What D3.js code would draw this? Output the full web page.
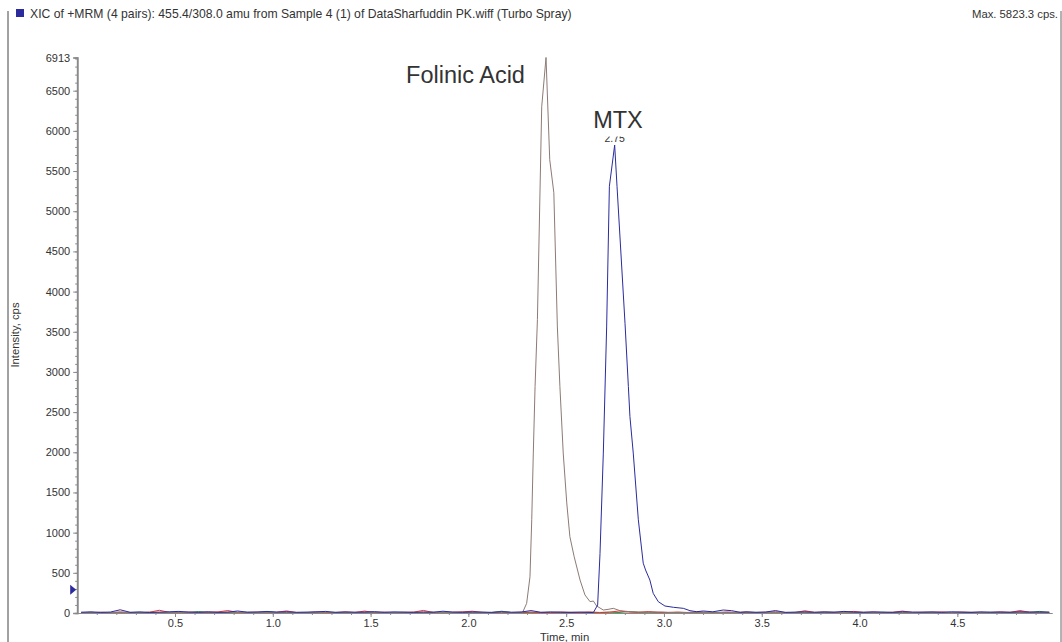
<!DOCTYPE html>
<html>
<head>
<meta charset="utf-8">
<script src="https://cdn.jsdelivr.net/npm/d3@7"></script>
<style>
  html, body { margin: 0; padding: 0; background: #fff; }
  svg { display: block; font-family: "Liberation Sans", Arial, Helvetica, sans-serif; }
</style>
</head>
<body>
<svg id="chart" width="1062" height="642"></svg>
<script>
// ---- Chromatogram data (time in min, intensity in cps) ----
const titleText = "XIC of +MRM (4 pairs): 455.4/308.0 amu from Sample 4 (1) of DataSharfuddin PK.wiff (Turbo Spray)";
const xLabel = "Time, min";
const yLabel = "Intensity, cps";
const xTickValues = [0.5, 1.0, 1.5, 2.0, 2.5, 3.0, 3.5, 4.0, 4.5];
const yTickValues = [0, 500, 1000, 1500, 2000, 2500, 3000, 3500, 4000, 4500, 5000, 5500, 6000, 6500];
const thresholdMarker = 290;

// Shared sampling grid for the baseline portions of every trace
const gridTimes = d3.range(100).map(i => +(0.02 + i * 0.05).toFixed(2));

// Baseline noise on the grid; null where the peak samples take over
const redBaseline = [
  6, 4, 9, 5, 12, 7, 3, 10, 34, 8,
  5, 11, 6, 9, 14, 30, 8, 7, 10, 5,
  9, 26, 6, 4, 12, 8, 5, 13, 7, 24,
  6, 10, 5, 8, 11, 32, 7, 4, 9, 14,
  22, 8, 5, 10, 6, 9, 12, 7, 5, 11,
  8, 6, 13, 7, 10, 25, 12, 8, 18, 9,
  7, 11, 6, 14, 9, 5, 12, 8, 10, 6,
  9, 13, 7, 5, 28, 8, 11, 6, 10, 20,
  7, 12, 5, 9, 24, 6, 10, 8, 13, 5,
  11, 7, 9, 6, 14, 8, 30, 10, 6, 9
];
const greenBaseline = [
  4, 8, 5, 3, 7, 6, 9, 4, 6, 5,
  7, 5, 18, 6, 4, 8, 5, 9, 6, 20,
  5, 7, 4, 6, 9, 5, 8, 6, 4, 7,
  9, 5, 6, 8, 4, 7, 5, 10, 6, 8,
  5, 7, 6, 22, 5, 8, 4, 6, 9, 5,
  7, 6, 8, 5, 10, 6, 18, 7, 9, 6,
  5, 8, 6, 7, 4, 9, 6, 5, 8, 7,
  6, 9, 5, 7, 8, 5, 10, 6, 4, 8,
  7, 5, 9, 6, 8, 4, 7, 9, 5, 6,
  8, 6, 5, 9, 7, 6, 8, 5, 20, 7
];
const folinicBaseline = [
  5, 8, 3, 6, 10, 4, 7, 9, 5, 6,
  8, 4, 6, 12, 5, 7, 10, 6, 4, 8,
  6, 9, 5, 7, 4, 11, 6, 8, 5, 7,
  9, 5, 7, 4, 8, 6, 10, 5, 7, 6,
  8, 5, 7, 12, 6, 4, null, null, null, null,
  null, null, null, null, null, null, null, null, null, null,
  8, 5, 7, 9, 6, 4, 8, 6, 10, 5,
  7, 9, 5, 6, 8, 4, 7, 11, 5, 6,
  8, 6, 4, 7, 9, 5, 6, 8, 5, 7,
  6, 9, 5, 7, 4, 8, 6, 10, 5, 7
];
const mtxBaseline = [
  10, 14, 8, 12, 40, 9, 13, 7, 11, 15,
  20, 12, 9, 14, 8, 11, 25, 10, 13, 18,
  12, 16, 9, 11, 14, 20, 8, 13, 10, 12,
  16, 9, 14, 11, 8, 13, 10, 22, 12, 9,
  14, 11, 8, 16, 10, 12, 30, 9, 13, 11,
  8, 12, null, null, null, null, null, null, null, null,
  null, null, null, null, null, null, null, null, 14, 9,
  12, 30, 8, 11, 15, 9, 13, 10, 20, 12,
  9, 14, 11, 8, 16, 12, 10, 13, 9, 15,
  11, 8, 14, 10, 12, 9, 16, 11, 13, 10
];

// Peak samples
const folinicPeakTimes = [2.276, 2.298, 2.315, 2.324, 2.332, 2.341, 2.353, 2.375, 2.397, 2.416,
  2.437, 2.455, 2.468, 2.485, 2.503, 2.519, 2.541, 2.571, 2.596, 2.622,
  2.639, 2.656, 2.690, 2.714, 2.741, 2.775, 2.826, 2.903, 2.988];
const folinicPeakValues = [0, 120, 450, 1160, 1990, 2820, 3650, 6300, 6913, 5640,
  5230, 3560, 2820, 1990, 1370, 950, 700, 410, 225, 141,
  149, 87, 37, 45, 58, 29, 16, 10, 12];

const mtxPeakTimes = [2.612, 2.639, 2.661, 2.673, 2.690, 2.707, 2.721, 2.748, 2.760, 2.801,
  2.818, 2.826, 2.843, 2.869, 2.894, 2.906, 2.928, 2.945, 2.971, 3.005,
  3.048, 3.099, 3.133, 3.167, 3.201, 3.250, 3.303, 3.346, 3.390];
const mtxPeakValues = [8, 5, 100, 740, 1990, 3560, 5310, 5823.3, 5310, 3600,
  2820, 2445, 1990, 1160, 620, 535, 410, 245, 141, 87,
  71, 58, 29, 16, 25, 15, 37, 29, 8];

// ---- Build traces ----
function buildTrace(baseline, peakTimes, peakValues) {
  const pts = [];
  baseline.forEach((v, i) => { if (v !== null) pts.push([gridTimes[i], v]); });
  if (peakTimes) peakTimes.forEach((t, i) => pts.push([t, peakValues[i]]));
  return pts.sort((a, b) => a[0] - b[0]);
}

const traces = [
  { name: "green", color: "#2f8f3c", points: buildTrace(greenBaseline) },
  { name: "red", color: "#e8322e", points: buildTrace(redBaseline) },
  { name: "Folinic Acid", color: "#8c7b75", points: buildTrace(folinicBaseline, folinicPeakTimes, folinicPeakValues) },
  { name: "MTX", color: "#2b2b9e", points: buildTrace(mtxBaseline, mtxPeakTimes, mtxPeakValues) }
];

const yMax = d3.max(traces, tr => d3.max(tr.points, p => p[1]));
const mtx = traces[3];
const mtxApex = mtx.points.reduce((a, b) => (b[1] > a[1] ? b : a));

// ---- Layout ----
const svg = d3.select("#chart");
const W = 1062, H = 642;
const plot = { left: 77.2, right: 1052, top: 57.5, bottom: 613 };

const x = d3.scaleLinear().domain([0, 4.984]).range([plot.left, plot.right]);
const y = d3.scaleLinear().domain([0, yMax]).range([plot.bottom, plot.top]);

const textColor = "#333";
const axisColor = "#8a8a8a";

// Outer frame lines
svg.append("line").attr("x1", 8).attr("x2", 8).attr("y1", 11).attr("y2", H)
  .attr("stroke", "#444").attr("stroke-width", 1);
svg.append("line").attr("x1", 1061).attr("x2", 1061).attr("y1", 11).attr("y2", H)
  .attr("stroke", "#666").attr("stroke-width", 1);

// Header
svg.append("rect").attr("x", 16).attr("y", 9).attr("width", 8).attr("height", 8)
  .attr("fill", mtx.color);
svg.append("text").attr("x", 30).attr("y", 17.5)
  .attr("font-size", 12.2).attr("fill", textColor).text(titleText);
svg.append("text").attr("x", 1058).attr("y", 17.5).attr("text-anchor", "end")
  .attr("font-size", 11.3).attr("fill", textColor)
  .text("Max. " + d3.format(".1f")(mtxApex[1]) + " cps.");

// Traces
const line = d3.line().x(d => x(d[0])).y(d => y(d[1]));
traces.forEach(tr => {
  svg.append("path").datum(tr.points)
    .attr("fill", "none").attr("stroke", tr.color).attr("stroke-width", 1)
    .attr("stroke-linejoin", "round").attr("d", line);
});

// Y axis
const yMinor = d3.range(0, yMax, 100);
const yAxisG = svg.append("g").attr("transform", `translate(${plot.left},0)`);
yAxisG.call(d3.axisLeft(y).tickValues(yMinor).tickSize(2).tickFormat(""));
yAxisG.append("g").call(d3.axisLeft(y).tickValues(yTickValues.concat([yMax])).tickSize(4)
  .tickFormat(d3.format("d")).tickPadding(3));
yAxisG.selectAll(".domain").attr("stroke", axisColor).attr("stroke-width", 1.6);
yAxisG.selectAll("line").attr("stroke", axisColor);
yAxisG.selectAll("text").attr("font-size", 11).attr("fill", textColor)
  .attr("font-family", "'Liberation Sans', Arial, sans-serif");

// X axis
const xMinor = d3.range(0.1, 4.95, 0.1);
const xAxisG = svg.append("g").attr("transform", `translate(0,${plot.bottom})`);
xAxisG.call(d3.axisBottom(x).tickValues(xMinor).tickSize(2).tickFormat("").tickSizeOuter(0));
xAxisG.append("g").call(d3.axisBottom(x).tickValues(xTickValues).tickSize(4)
  .tickFormat(d3.format(".1f")).tickPadding(2).tickSizeOuter(0));
xAxisG.selectAll(".domain").attr("stroke", axisColor).attr("stroke-width", 1.2);
xAxisG.selectAll("line").attr("stroke", axisColor);
xAxisG.selectAll("text").attr("font-size", 11).attr("fill", textColor)
  .attr("font-family", "'Liberation Sans', Arial, sans-serif");

// Threshold marker on the y axis
const my = y(thresholdMarker);
svg.append("path")
  .attr("d", `M${plot.left - 7},${my - 5} L${plot.left - 1},${my} L${plot.left - 7},${my + 5} Z`)
  .attr("fill", mtx.color);

// Axis titles
svg.append("text").attr("x", (plot.left + plot.right) / 2 + 0).attr("y", 640.5)
  .attr("text-anchor", "middle").attr("font-size", 11.3).attr("fill", textColor).text(xLabel);
svg.append("text").attr("transform", `translate(19,335) rotate(-90)`)
  .attr("text-anchor", "middle").attr("font-size", 11.3).attr("fill", textColor).text(yLabel);

// Apex retention-time label, partly covered by the compound name box
svg.append("text").attr("x", x(mtxApex[0])).attr("y", y(mtxApex[1]) - 3)
  .attr("text-anchor", "middle").attr("font-size", 10.5).attr("fill", textColor)
  .text(d3.format(".2f")(mtxApex[0]));

// Compound annotations
svg.append("rect").attr("x", 588).attr("y", 104).attr("width", 60).attr("height", 32.5).attr("fill", "#fff");
svg.append("text").attr("x", 618).attr("y", 127.5).attr("text-anchor", "middle")
  .attr("font-size", 23.5).attr("fill", textColor).text("MTX");
svg.append("text").attr("x", 465.5).attr("y", 82.5).attr("text-anchor", "middle")
  .attr("font-size", 23.5).attr("fill", textColor).text("Folinic Acid");
</script>
</body>
</html>
